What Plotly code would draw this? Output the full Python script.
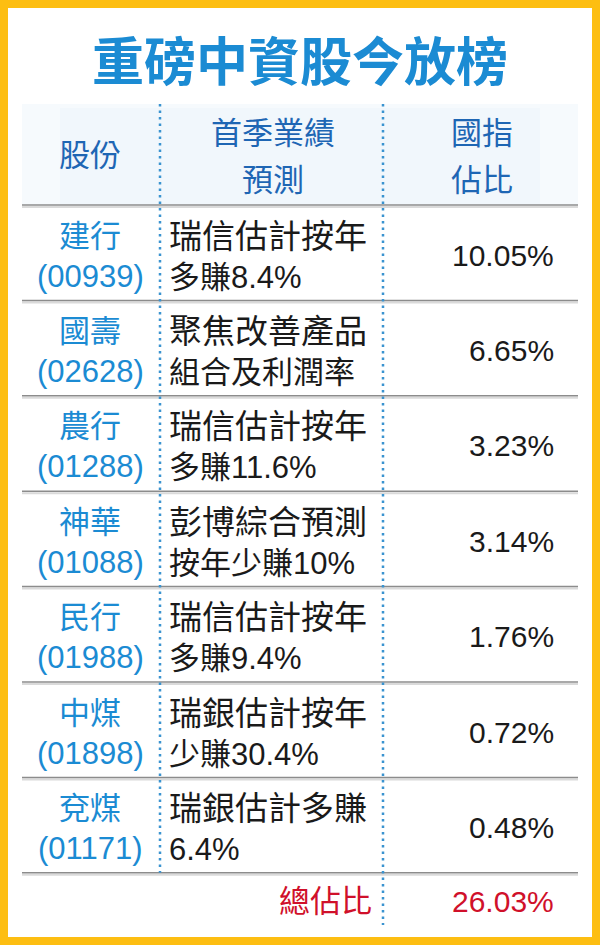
import plotly.graph_objects as go

# table content
title = "重磅中資股今放榜"
headers = [["股份"], ["首季業績", "預測"], ["國指", "佔比"]]
stock_names = ["建行", "國壽", "農行", "神華", "民行", "中煤", "兗煤"]
stock_codes = ["00939", "02628", "01288", "01088", "01988", "01898", "01171"]
forecast_line1 = ["瑞信估計按年", "聚焦改善產品", "瑞信估計按年", "彭博綜合預測",
                  "瑞信估計按年", "瑞銀估計按年", "瑞銀估計多賺"]
forecast_line2 = ["多賺8.4%", "組合及利潤率", "多賺11.6%", "按年少賺10%",
                  "多賺9.4%", "少賺30.4%", "6.4%"]
index_weight = [10.05, 6.65, 3.23, 3.14, 1.76, 0.72, 0.48]
total_label = "總佔比"
total_weight = 26.03

W, H = 600, 945
FONT = "Liberation Sans, Noto Sans CJK TC, sans-serif"
BLUE = "#1B8BD3"
HEAD_BLUE = "#1E66B4"
RED = "#D0102A"
YELLOW = "#FDBE12"

ROW_TOP = 205
ROW_H = 95.4
COL1 = 160
COL2 = 383

fig = go.Figure()
shapes = []
annotations = []

# white card inside yellow frame
shapes.append(dict(type="rect", x0=8, x1=592, y0=8, y1=937,
                   fillcolor="white", line_width=0, layer="below"))
# header band (faint, a touch stronger in the middle)
shapes.append(dict(type="rect", x0=22, x1=578, y0=104, y1=ROW_TOP,
                   fillcolor="#F6FAFD", line_width=0, layer="below"))
shapes.append(dict(type="rect", x0=60, x1=540, y0=108, y1=ROW_TOP,
                   fillcolor="#F1F7FC", line_width=0, layer="below"))

# horizontal separators (with a light shadow underneath)
for i in range(len(stock_names) + 1):
    y = ROW_TOP + ROW_H * i
    shapes.append(dict(type="line", x0=22, x1=578, y0=y + 2, y1=y + 2,
                       line=dict(color="#DADADA", width=2)))
    shapes.append(dict(type="line", x0=22, x1=578, y0=y, y1=y,
                       line=dict(color="#8C8C8C", width=1.5)))

last_sep = ROW_TOP + ROW_H * len(stock_names)
# dotted column dividers
shapes.append(dict(type="line", x0=COL1, x1=COL1, y0=104, y1=last_sep,
                   line=dict(color="#3A93D0", width=2.5, dash="2.5px,4px")))
shapes.append(dict(type="line", x0=COL2, x1=COL2, y0=104, y1=925,
                   line=dict(color="#3A93D0", width=2.5, dash="2.5px,4px")))


def add_text(x, y, text, size, color, anchor="center"):
    annotations.append(dict(x=x, y=y, xref="x", yref="y", text=text,
                            showarrow=False, xanchor=anchor, yanchor="middle",
                            font=dict(family=FONT, size=size, color=color)))


add_text(300, 63, "<b>" + title + "</b>", 52, BLUE)

# headers
header_x = [90, 273, 482]
for hx, lines in zip(header_x, headers):
    if len(lines) == 1:
        add_text(hx, 155, lines[0], 31, HEAD_BLUE)
    else:
        add_text(hx, 133, lines[0], 31, HEAD_BLUE)
        add_text(hx, 180, lines[1], 31, HEAD_BLUE)

# body rows
for i in range(len(stock_names)):
    top = ROW_TOP + ROW_H * i
    add_text(90, top + 31, stock_names[i], 31, BLUE)
    add_text(90, top + 71, "(" + stock_codes[i] + ")", 31, BLUE)
    add_text(167, top + 31, forecast_line1[i], 33, "#1A1A1A", "left")
    add_text(167, top + 72, forecast_line2[i], 31, "#1A1A1A", "left")
    add_text(556, top + 50, f"{index_weight[i]:.2f}%", 30, "#1A1A1A", "right")

add_text(374, last_sep + 29, total_label, 31, RED, "right")
add_text(556, last_sep + 29, f"{total_weight:.2f}%", 30, RED, "right")

fig.update_layout(
    width=W, height=H,
    margin=dict(l=0, r=0, t=0, b=0),
    paper_bgcolor=YELLOW, plot_bgcolor=YELLOW,
    xaxis=dict(range=[0, W], visible=False, fixedrange=True),
    yaxis=dict(range=[H, 0], visible=False, fixedrange=True),
    shapes=shapes, annotations=annotations,
    showlegend=False,
)

# drop the default page margin so the frame sits flush with the window
fig.write_html("out.html", config={"displayModeBar": False},
               post_script="document.body.style.margin='0';"
                           "document.body.style.overflow='hidden';")
